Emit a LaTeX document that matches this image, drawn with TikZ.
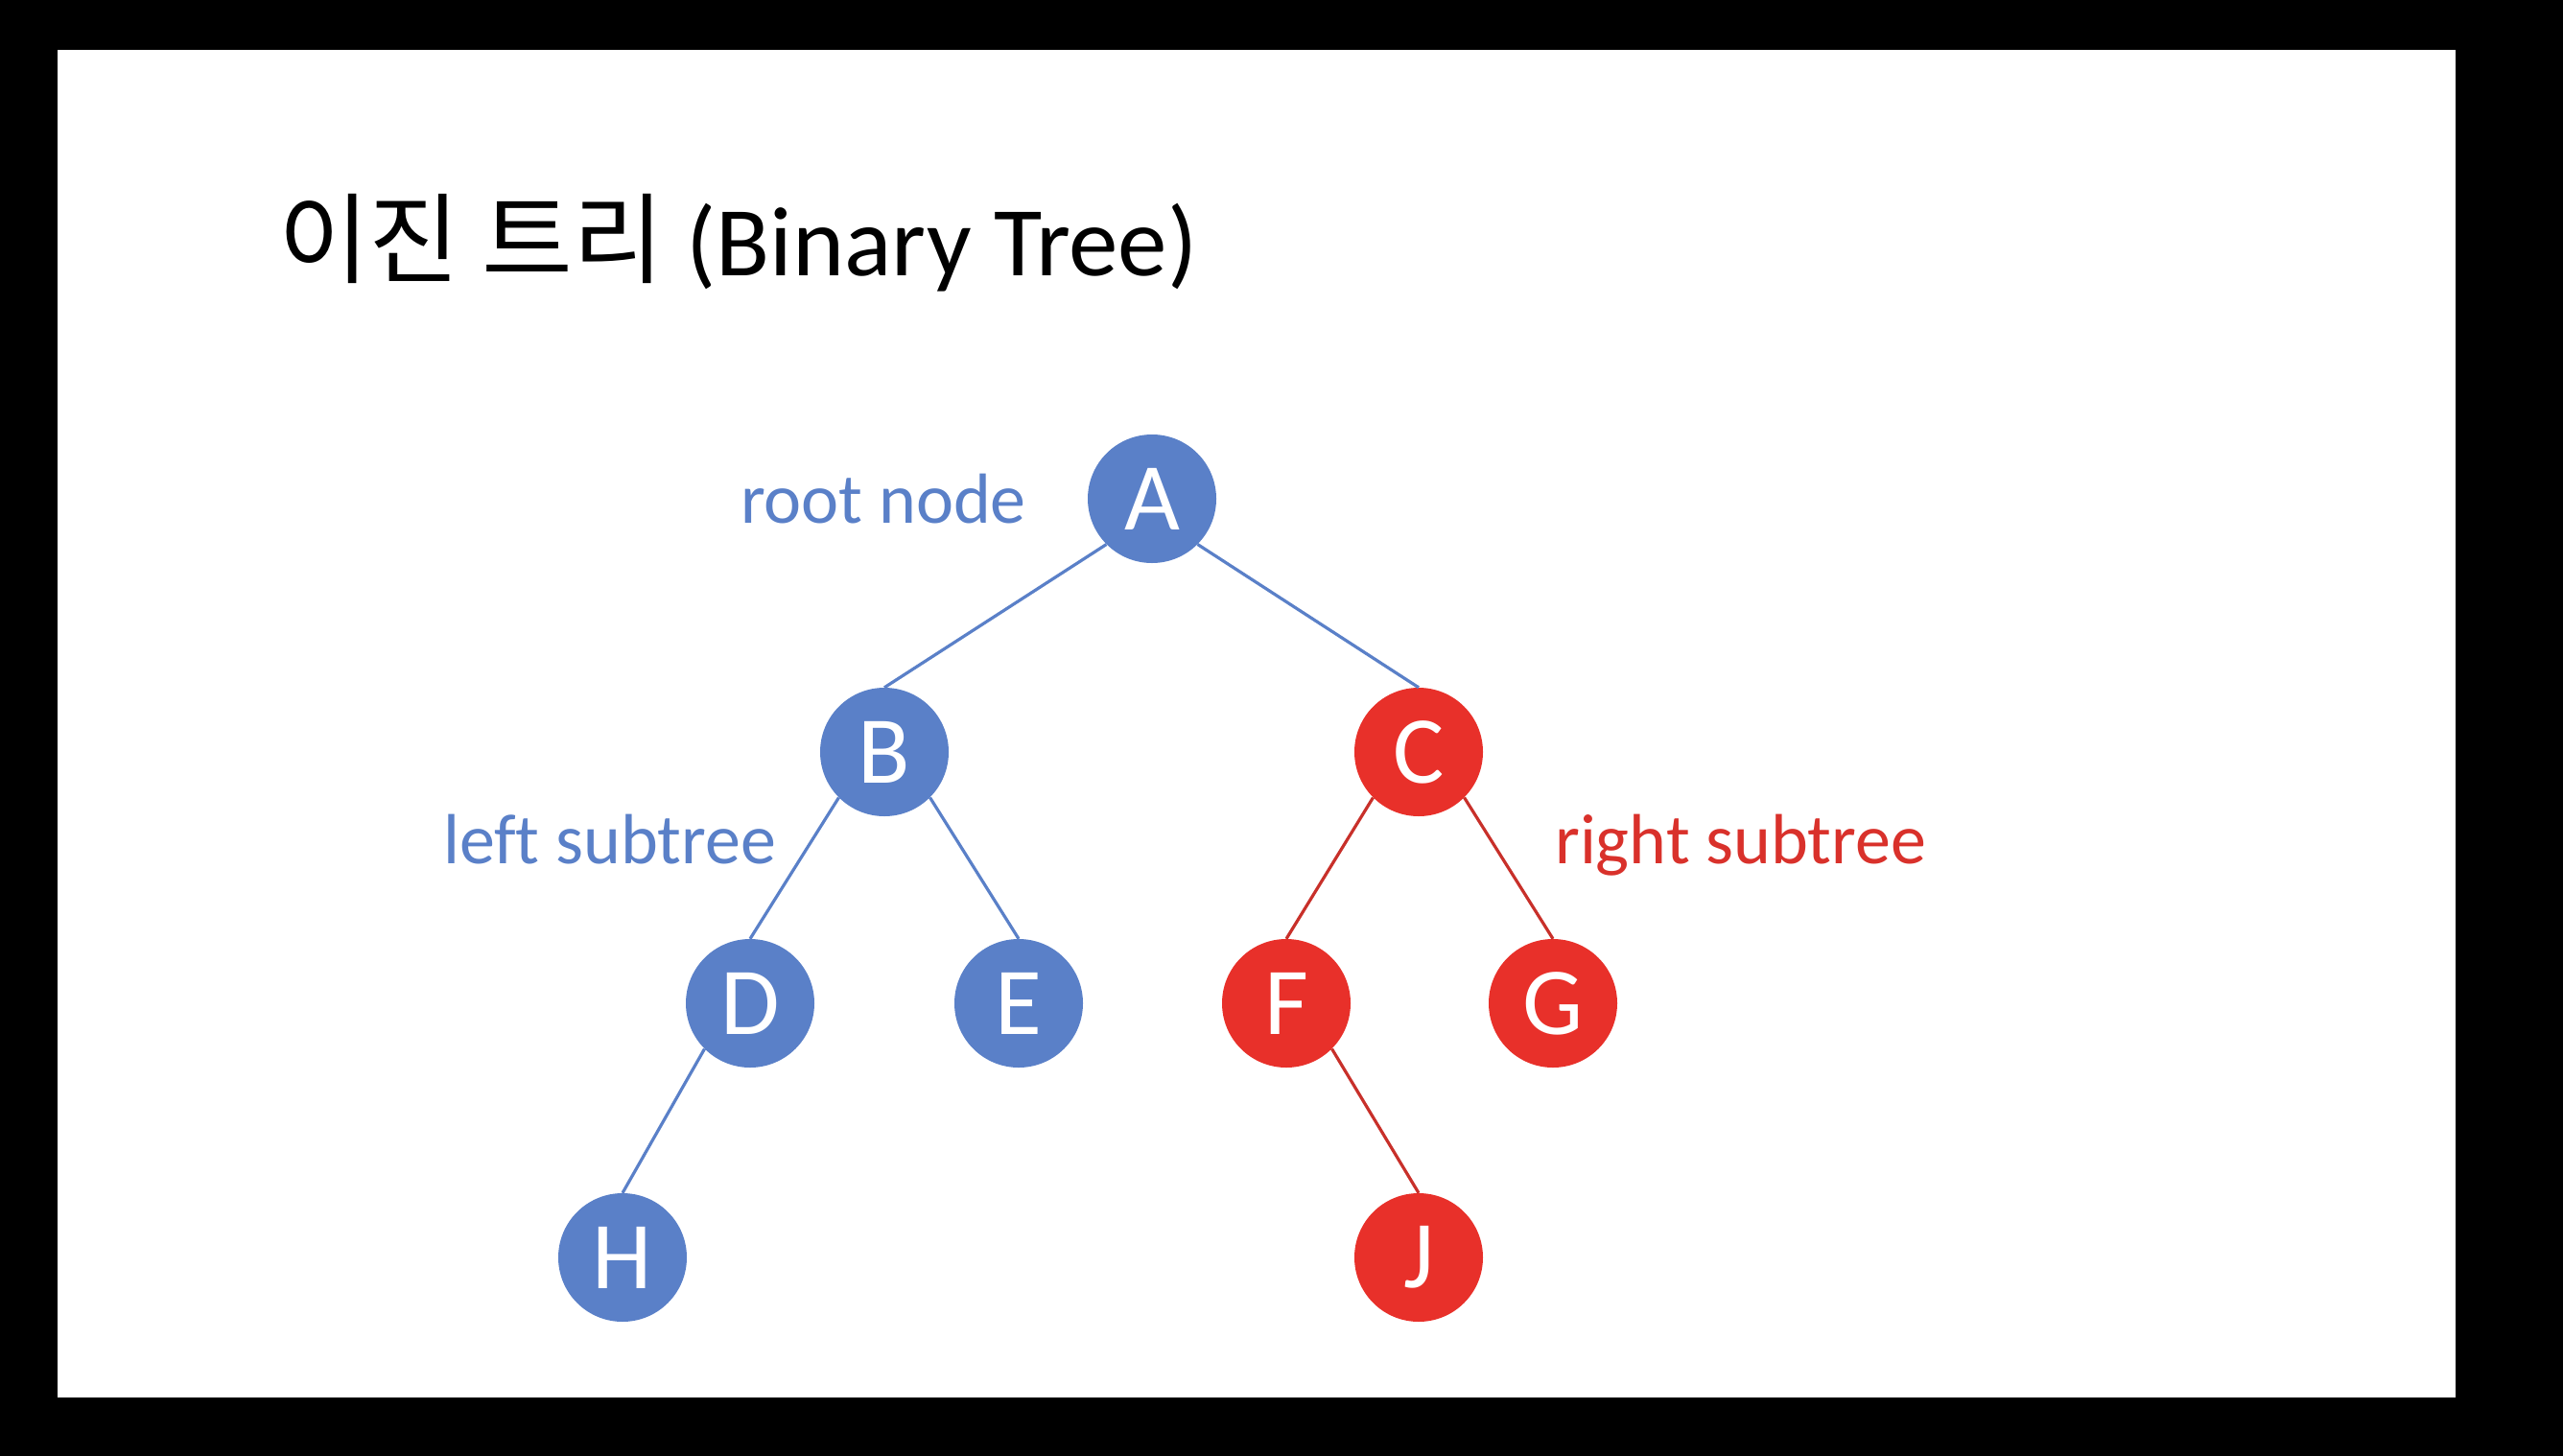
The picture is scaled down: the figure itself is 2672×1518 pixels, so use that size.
\documentclass[tikz,border=0pt]{standalone}
\usepackage{fontspec}
\setmainfont[Ligatures=NoCommon]{Carlito}
\newfontfamily\kr{Noto Sans CJK KR}
\definecolor{nblue}{HTML}{5A80C8}
\definecolor{nred}{HTML}{E8302A}
\definecolor{lred}{HTML}{C8302A}
\definecolor{tred}{HTML}{D9312B}
\begin{document}
\begin{tikzpicture}[x=1pt,y=-1pt,
  tnode/.style={circle,minimum size=134pt,inner sep=0pt,text=white,font=\fontsize{100}{100}\selectfont},
  bnode/.style={tnode,fill=nblue},
  rnode/.style={tnode,fill=nred},
  bedge/.style={draw=nblue,line width=3.2pt},
  redge/.style={draw=lred,line width=3.2pt},
  lbl/.style={anchor=base west,inner sep=0pt,font=\fontsize{74}{76}\selectfont}]
\fill[black] (0,0) rectangle (2672,1518);
\fill[white] (60,52) rectangle (2560,1457);
\useasboundingbox (0,0) rectangle (2672,1518);
\node[anchor=base west,inner sep=0pt,font=\fontsize{103}{105}\selectfont] (title) at (290,287) {{\kr 이진 트리} (Binary Tree)};
\node[bnode] (A) at (1201,520) {A};
\node[bnode] (B) at (922,784) {B};
\node[rnode] (C) at (1479,784) {C};
\node[bnode] (D) at (782,1046) {D};
\node[bnode] (E) at (1062,1046) {E};
\node[rnode] (F) at (1341,1046) {F};
\node[rnode] (G) at (1619,1046) {G};
\node[bnode] (H) at (649,1311) {H};
\node[rnode] (J) at (1479,1311) {J};
\draw[bedge] (A.south west) -- (B.north);
\draw[bedge] (A.south east) -- (C.north);
\draw[bedge] (B.south west) -- (D.north);
\draw[bedge] (B.south east) -- (E.north);
\draw[bedge] (D.south west) -- (H.north);
\draw[redge] (C.south west) -- (F.north);
\draw[redge] (C.south east) -- (G.north);
\draw[redge] (F.south east) -- (J.north);
\node[lbl,text=nblue] (root) at (772,545) {root node};
\node[lbl,text=nblue] (left) at (462,900) {left subtree};
\node[lbl,text=tred] (right) at (1621,900) {right subtree};
\end{tikzpicture}
\end{document}
